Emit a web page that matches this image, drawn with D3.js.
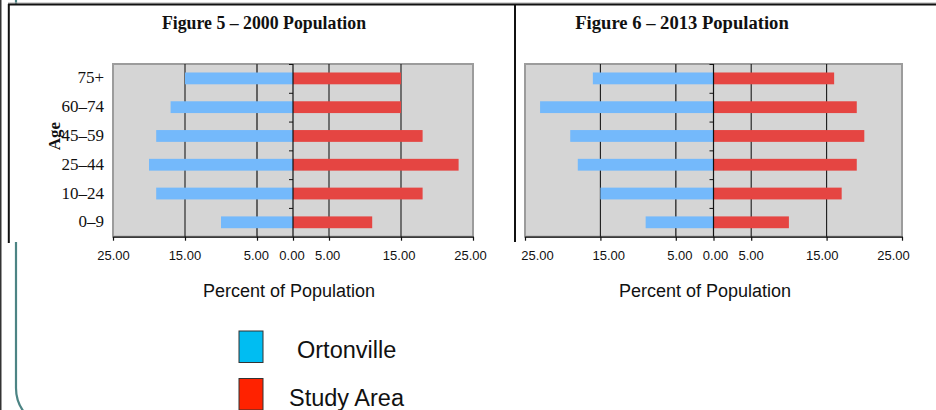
<!DOCTYPE html>
<html>
<head>
<meta charset="utf-8">
<script src="https://cdn.jsdelivr.net/npm/d3@7"></script>
<style>
  html, body { margin: 0; padding: 0; background: #fff; }
  svg { display: block; }
</style>
</head>
<body>
<svg id="chart" width="936" height="410"></svg>
<script>
// Age pyramid data (percent of population)
const ageGroups = ["75+", "60–74", "45–59", "25–44", "10–24", "0–9"];
const ortonville2000 = [15, 17, 19, 20, 19, 10];
const studyArea2000 = [15, 15, 18, 23, 18, 11];
const ortonville2013 = [16, 23, 19, 18, 15, 9];
const studyArea2013 = [16, 19, 20, 19, 17, 10];
const axisTicks = [-25, -15, -5, 0, 5, 15, 25];
const gridValues = [-15, -5, 5, 15];
const titles = ["Figure 5 – 2000 Population", "Figure 6 – 2013 Population"];
const seriesNames = ["Ortonville", "Study Area"];

const SERIF = "'Liberation Serif', 'Times New Roman', serif";
const SANS = "'Liberation Sans', Arial, sans-serif";
const BLUE = "#74b9fb";
const RED = "#e54542";

const svg = d3.select("#chart");

// slide background: rounded teal frame and left edge
svg.append("line").attr("x1", 0.75).attr("x2", 0.75).attr("y1", 0).attr("y2", 410)
  .attr("stroke", "#333").attr("stroke-width", 1.5);
svg.append("path").attr("d", "M16,0 V388 A40,40 0 0 0 56,428")
  .attr("fill", "none").attr("stroke", "#4c8484").attr("stroke-width", 2.2);

// white figure panels
svg.append("rect").attr("x", 9).attr("y", 5).attr("width", 927).attr("height", 237).attr("fill", "#fff");
svg.append("line").attr("x1", 8).attr("x2", 936).attr("y1", 3).attr("y2", 3)
  .attr("stroke", "#aaa").attr("stroke-width", 1);
svg.append("line").attr("x1", 8).attr("x2", 936).attr("y1", 4.6).attr("y2", 4.6)
  .attr("stroke", "#111").attr("stroke-width", 2);
svg.append("line").attr("x1", 8.8).attr("x2", 8.8).attr("y1", 4).attr("y2", 243)
  .attr("stroke", "#111").attr("stroke-width", 2);
svg.append("line").attr("x1", 515).attr("x2", 515).attr("y1", 4).attr("y2", 242)
  .attr("stroke", "#111").attr("stroke-width", 2);

const plotTop = 64, plotBottom = 236.7;

function drawPyramid(cfg) {
  const g = svg.append("g");
  const x = d3.scaleLinear().domain([-25, 25]).range([cfg.x0, cfg.x1]);
  // tick labels sit on a slightly inset copy of the value scale
  const xLabel = d3.scaleLinear().domain([-25, 25]).range(cfg.labelRange);
  const y = d3.scaleBand().domain(ageGroups).range([plotTop, plotBottom])
    .paddingInner(0.59).paddingOuter(0.295);
  const step = y.step();

  // plot background
  g.append("rect").attr("x", cfg.x0).attr("y", plotTop)
    .attr("width", cfg.x1 - cfg.x0).attr("height", plotBottom - plotTop)
    .attr("fill", "#d5d5d5").attr("stroke", "#9c9c9c").attr("stroke-width", 2);

  // vertical gridlines
  g.selectAll(".grid").data(gridValues).join("line")
    .attr("x1", d => x(d)).attr("x2", d => x(d))
    .attr("y1", plotTop).attr("y2", plotBottom)
    .attr("stroke", d => d === -5 ? "#444" : "#1a1a1a")
    .attr("stroke-width", d => d === -5 ? 1.6 : 1.1);

  // left side: Ortonville, right side: Study Area
  g.selectAll(".left").data(ageGroups).join("rect")
    .attr("x", (d, i) => x(-cfg.left[i])).attr("y", d => y(d))
    .attr("width", (d, i) => x(0) - x(-cfg.left[i])).attr("height", y.bandwidth())
    .attr("fill", BLUE);
  g.selectAll(".right").data(ageGroups).join("rect")
    .attr("x", x(0)).attr("y", d => y(d))
    .attr("width", (d, i) => x(cfg.right[i]) - x(0)).attr("height", y.bandwidth())
    .attr("fill", RED);

  // centre axis with category separators
  g.append("line").attr("x1", x(0)).attr("x2", x(0)).attr("y1", plotTop).attr("y2", plotBottom)
    .attr("stroke", "#111").attr("stroke-width", 1.2);
  g.selectAll(".sep").data(d3.range(ageGroups.length)).join("line")
    .attr("x1", x(0) - 4).attr("x2", x(0))
    .attr("y1", i => plotTop + i * step + 0.5).attr("y2", i => plotTop + i * step + 0.5)
    .attr("stroke", "#111").attr("stroke-width", 1);

  // bottom axis
  const axis = d3.axisBottom(x).tickValues(axisTicks).tickSize(4).tickSizeOuter(0)
    .tickFormat(d => Math.abs(d).toFixed(2));
  const ax = g.append("g").attr("transform", `translate(0,${plotBottom})`).call(axis);
  ax.select(".domain").attr("stroke", "#111").attr("stroke-width", 1.3);
  ax.selectAll(".tick line").attr("stroke", "#111").attr("stroke-width", 1.2);
  ax.selectAll(".tick text").attr("font-family", SANS).attr("font-size", 13)
    .attr("fill", "#111").attr("dy", null).attr("y", 23.5)
    .attr("x", d => xLabel(d) - x(d));

  // titles
  g.append("text").attr("x", cfg.titleX).attr("y", 29).attr("text-anchor", "middle")
    .attr("font-family", SERIF).attr("font-weight", "bold").attr("font-size", cfg.titleSize)
    .attr("fill", "#111").text(cfg.title);
  g.append("text").attr("x", cfg.axisTitleX).attr("y", 297).attr("text-anchor", "middle")
    .attr("font-family", SANS).attr("font-size", 18).attr("fill", "#111")
    .text("Percent of Population");

  if (cfg.ageLabels) {
    g.append("text")
      .attr("transform", `translate(60,136) rotate(-90)`)
      .attr("text-anchor", "middle").attr("font-family", SERIF)
      .attr("font-weight", "bold").attr("font-size", 17).attr("fill", "#111")
      .text("Age");
    g.selectAll(".cat").data(ageGroups).join("text")
      .attr("x", 104).attr("y", d => y(d) + y.bandwidth() / 2 + 5)
      .attr("text-anchor", "end").attr("font-family", SERIF).attr("font-size", 17)
      .attr("fill", "#111").text(d => d);
  }
}

drawPyramid({ x0: 113, x1: 473, labelRange: [113, 470], titleX: 264, titleSize: 17.8,
  axisTitleX: 289, title: titles[0], left: ortonville2000, right: studyArea2000, ageLabels: true });
drawPyramid({ x0: 525, x1: 902, labelRange: [537, 893], titleX: 682, titleSize: 18.6,
  axisTitleX: 705, title: titles[1], left: ortonville2013, right: studyArea2013, ageLabels: false });

// legend
const legend = svg.append("g");
const legendColors = ["#00bdf2", "#ff2200"];
const legendY = [331, 378.5];
const legendTextX = [297, 289];
seriesNames.forEach((name, i) => {
  legend.append("rect").attr("x", 239).attr("y", legendY[i]).attr("width", 24).attr("height", 31.5)
    .attr("fill", legendColors[i]).attr("stroke", "#333").attr("stroke-width", 1);
  legend.append("text").attr("x", legendTextX[i]).attr("y", legendY[i] + 27)
    .attr("font-family", SANS).attr("font-size", 23.5).attr("fill", "#111").text(name);
});
</script>
</body>
</html>
